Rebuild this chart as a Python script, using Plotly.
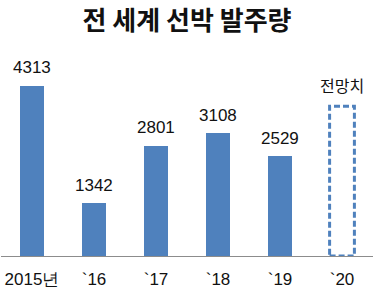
import plotly.graph_objects as go

categories = ["2015년", "`16", "`17", "`18", "`19", "`20"]
values = [4313, 1342, 2801, 3108, 2529]
forecast_label = "전망치"
forecast_value = 3800  # approximate height of dashed outline (no figure given)

title = "전 세계 선박 발주량"

pos = list(range(len(categories)))
bw = 0.4
num_font = "Liberation Sans Narrow, Arial Narrow, Liberation Sans"

fig = go.Figure()
fig.add_trace(go.Bar(
    x=pos[:len(values)], y=values, width=bw,
    marker=dict(color="#4f81bd", line=dict(width=0)),
    hoverinfo="skip",
))
for x, v in zip(pos, values):
    fig.add_annotation(x=x, y=v, text=str(v), showarrow=False, yanchor="middle", yshift=18,
                       font=dict(family=num_font, size=17, color="#111"))

fx = pos[-1]
fig.add_trace(go.Scatter(
    x=[fx - bw / 2, fx + bw / 2, fx + bw / 2, fx - bw / 2, fx - bw / 2],
    y=[0, 0, forecast_value, forecast_value, 0],
    mode="lines", line=dict(color="#4f81bd", width=3, dash="6px,3px"),
    hoverinfo="skip",
))
fig.add_annotation(x=fx, y=forecast_value, text=forecast_label, showarrow=False,
                   yanchor="middle", yshift=21,
                   font=dict(family="Noto Sans CJK KR", size=16, color="#111"))

fig.update_layout(
    width=374, height=294,
    margin=dict(l=1, r=1, t=60, b=38),
    paper_bgcolor="white", plot_bgcolor="white",
    showlegend=False, bargap=0,
    title=dict(text=f"<b>{title}</b>", x=0.5, xanchor="center", y=0.93, yanchor="middle",
               font=dict(family="Noto Sans CJK KR", size=26, color="#111")),
)
fig.update_xaxes(
    range=[-0.5, len(categories) - 0.5], tickmode="array", tickvals=pos, ticktext=categories,
    showline=True, linecolor="#8c8c8c", linewidth=1, ticks="", showgrid=False, zeroline=False,
    tickfont=dict(family=num_font, size=17, color="#111"),
    ticklabelstandoff=8,
)
fig.update_yaxes(range=[0, 4972], visible=False, showgrid=False, zeroline=False)

fig.write_html("out.html")
